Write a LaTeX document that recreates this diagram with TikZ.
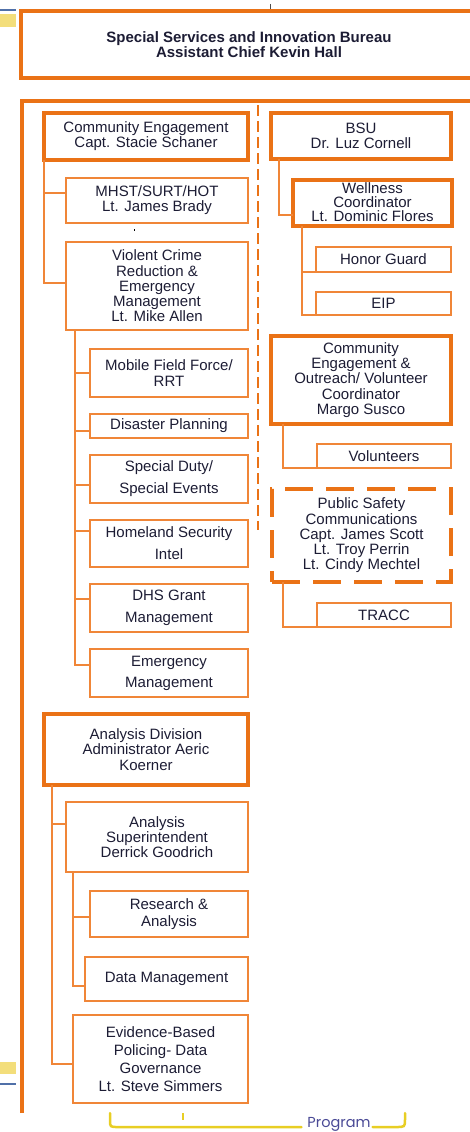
\documentclass[tikz,border=0pt]{standalone}
\usepackage{fontspec}
\setmainfont{Liberation Sans}
\newfontfamily\progfont{Poppins}
\definecolor{orA}{RGB}{234,114,22}
\definecolor{orB}{RGB}{240,134,56}
\definecolor{txt}{RGB}{28,28,52}
\definecolor{yel}{RGB}{232,206,36}
\definecolor{paleyel}{RGB}{243,222,123}
\definecolor{blu}{RGB}{80,112,168}
\definecolor{progblue}{RGB}{74,74,150}
\begin{document}
\begin{tikzpicture}[x=1pt,y=-1pt,
 every node/.style={inner sep=0pt,outer sep=0pt,align=center,text=txt,font=\fontsize{15}{15.2}\selectfont},
 thickbox/.style={draw=orA,line width=4pt},
 thinbox/.style={draw=orB,line width=1.5pt},
 dashbox/.style={draw=orA,line width=4pt,dash pattern=on 28pt off 13pt},
 conn/.style={draw=orB,line width=1.3pt},
 sz/.style 2 args={minimum width=#1pt,minimum height=#2pt}]
\useasboundingbox (0,0) rectangle (469,1132);

% side marks
\fill[paleyel] (0,14.5) rectangle (16,27.5);
\draw[blu,line width=2pt] (0,10) -- (16,10);
\fill[paleyel] (0,1062) rectangle (16,1074);
\draw[blu,line width=2pt] (0,1084) -- (16,1084);
\draw[black!70,line width=1pt] (270,4) -- (270,9);

% top box
\node[thickbox,sz={456}{67},font=\fontsize{15}{15}\selectfont\bfseries] (top) at (249,44.5)
 {Special Services and Innovation Bureau\\Assistant Chief Kevin Hall};

% container
\draw[orA,line width=4pt] (21.5,1113) -- (21.5,101) -- (480,101);
\draw[orA,line width=2pt,dash pattern=on 11pt off 5pt] (258,105) -- (258,530);

% left column
\node[thickbox,sz={204}{47}] (ce) at (146,136.5) {Community Engagement\\Capt. Stacie Schaner};
\node[thinbox,sz={182}{45}] (mhst) at (157,200.5) {MHST/SURT/HOT\\Lt. James Brady};
\node[thinbox,sz={182}{88}] (vc) at (157,286) {Violent Crime\\Reduction \&\\Emergency\\Management\\Lt. Mike Allen};
\node[thinbox,sz={158}{48}] (mff) at (169,373) {Mobile Field Force/\\RRT};
\node[thinbox,sz={158}{24}] (dp) at (169,426) {\raisebox{-2pt}{Disaster Planning}};
\node[thinbox,sz={158}{48}] (sd) at (169,479) {Special Duty/\\[7pt]Special Events};
\node[thinbox,sz={158}{47}] (hs) at (169,543.5) {Homeland Security\\[7pt]Intel};
\node[thinbox,sz={158}{48}] (dhs) at (169,608) {DHS Grant\\[7pt]Management};
\node[thinbox,sz={158}{48}] (em) at (169,673) {Emergency\\[6pt]Management};
\node[thickbox,sz={204}{71}] (ad) at (146,749.5) {Analysis Division\\Administrator Aeric\\Koerner};
\node[thinbox,sz={182}{70}] (as) at (157,837) {Analysis\\Superintendent\\Derrick Goodrich};
\node[thinbox,sz={158}{46}] (ra) at (169,914) {Research \&\\[2pt]Analysis};
\node[thinbox,sz={163}{44}] (dm) at (166.5,979) {Data Management};
\node[thinbox,sz={175}{88}] (eb) at (160.5,1059) {Evidence-Based\\[3pt]Policing- Data\\[3pt]Governance\\[3pt]Lt. Steve Simmers};
\fill[black] (133.5,228.5) rectangle (135,230.5);

% right column
\node[thickbox,sz={180}{46}] (bsu) at (361,136) {BSU\\Dr. Luz Cornell};
\node[thickbox,sz={159}{46.5}] (well) at (372.5,203) {\raisebox{1.5pt}{\shortstack{Wellness\\Coordinator\\Lt. Dominic Flores}}};
\node[thinbox,sz={135}{25}] (hg) at (383.5,259.5) {Honor Guard};
\node[thinbox,sz={135}{23}] (eip) at (383.5,303.5) {EIP};
\node[thickbox,sz={180}{87.5}] (ceo) at (361,380) {Community\\Engagement \&\\Outreach/ Volunteer\\Coordinator\\Margo Susco};
\node[thinbox,sz={134}{24}] (vol) at (384,456) {Volunteers};
\node[dashbox,sz={179}{93}] (psc) at (361.5,535.5) {Public Safety\\Communications\\Capt. James Scott\\Lt. Troy Perrin\\Lt. Cindy Mechtel};
\node[thinbox,sz={134}{24}] (tracc) at (384,615) {TRACC};

% connectors left
\draw[conn] (ce.south west) |- ([yshift=7.5pt]mhst.west);
\draw[conn] (ce.south west) |- ([yshift=3pt]vc.west);
\draw[conn] ([xshift=9pt]vc.south west) |- (mff.west);
\draw[conn] ([xshift=9pt]vc.south west) |- ([yshift=-5pt]dp.west);
\draw[conn] ([xshift=9pt]vc.south west) |- ([yshift=-6pt]sd.west);
\draw[conn] ([xshift=9pt]vc.south west) |- ([yshift=12.5pt]hs.west);
\draw[conn] ([xshift=9pt]vc.south west) |- ([yshift=9pt]dhs.west);
\draw[conn] ([xshift=9pt]vc.south west) |- ([yshift=8pt]em.west);
\draw[conn] ([xshift=8pt]ad.south west) |- ([yshift=13pt]as.west);
\draw[conn] ([xshift=8pt]ad.south west) |- ([yshift=-5pt]eb.west);
\draw[conn] ([xshift=7pt]as.south west) |- ([yshift=-3pt]ra.west);
\draw[conn] ([xshift=7pt]as.south west) |- ([yshift=-7pt]dm.west);

% connectors right
\draw[conn] ([xshift=8pt]bsu.south west) |- ([yshift=-12pt]well.west);
\draw[conn] ([xshift=9pt]well.south west) |- (hg.south west);
\draw[conn] ([xshift=9pt]well.south west) |- (eip.south west);
\draw[conn] ([xshift=12pt]ceo.south west) |- (vol.south west);
\draw[conn] ([xshift=11pt]psc.south west) |- (tracc.south west);

% bottom bracket
\node[font=\progfont\fontsize{14.5}{14.5}\selectfont,text=progblue,anchor=base] (prog) at (339,1127.5) {Program};
\coordinate (bl) at (110,1113);
\coordinate (br) at (405,1113);
\draw[yel,line width=2.5pt,line cap=round] (bl) -- (110,1120) .. controls (110,1127) .. (118,1127) -- ([xshift=-6pt]prog.west |- 0,1127);
\draw[yel,line width=2.5pt,line cap=round] ([xshift=2pt]prog.east |- 0,1127) -- (396,1127) .. controls (405,1127) .. (405,1119) -- (br);
\draw[yel,line width=2.5pt] (183,1113) -- (183,1120);
\end{tikzpicture}
\end{document}
